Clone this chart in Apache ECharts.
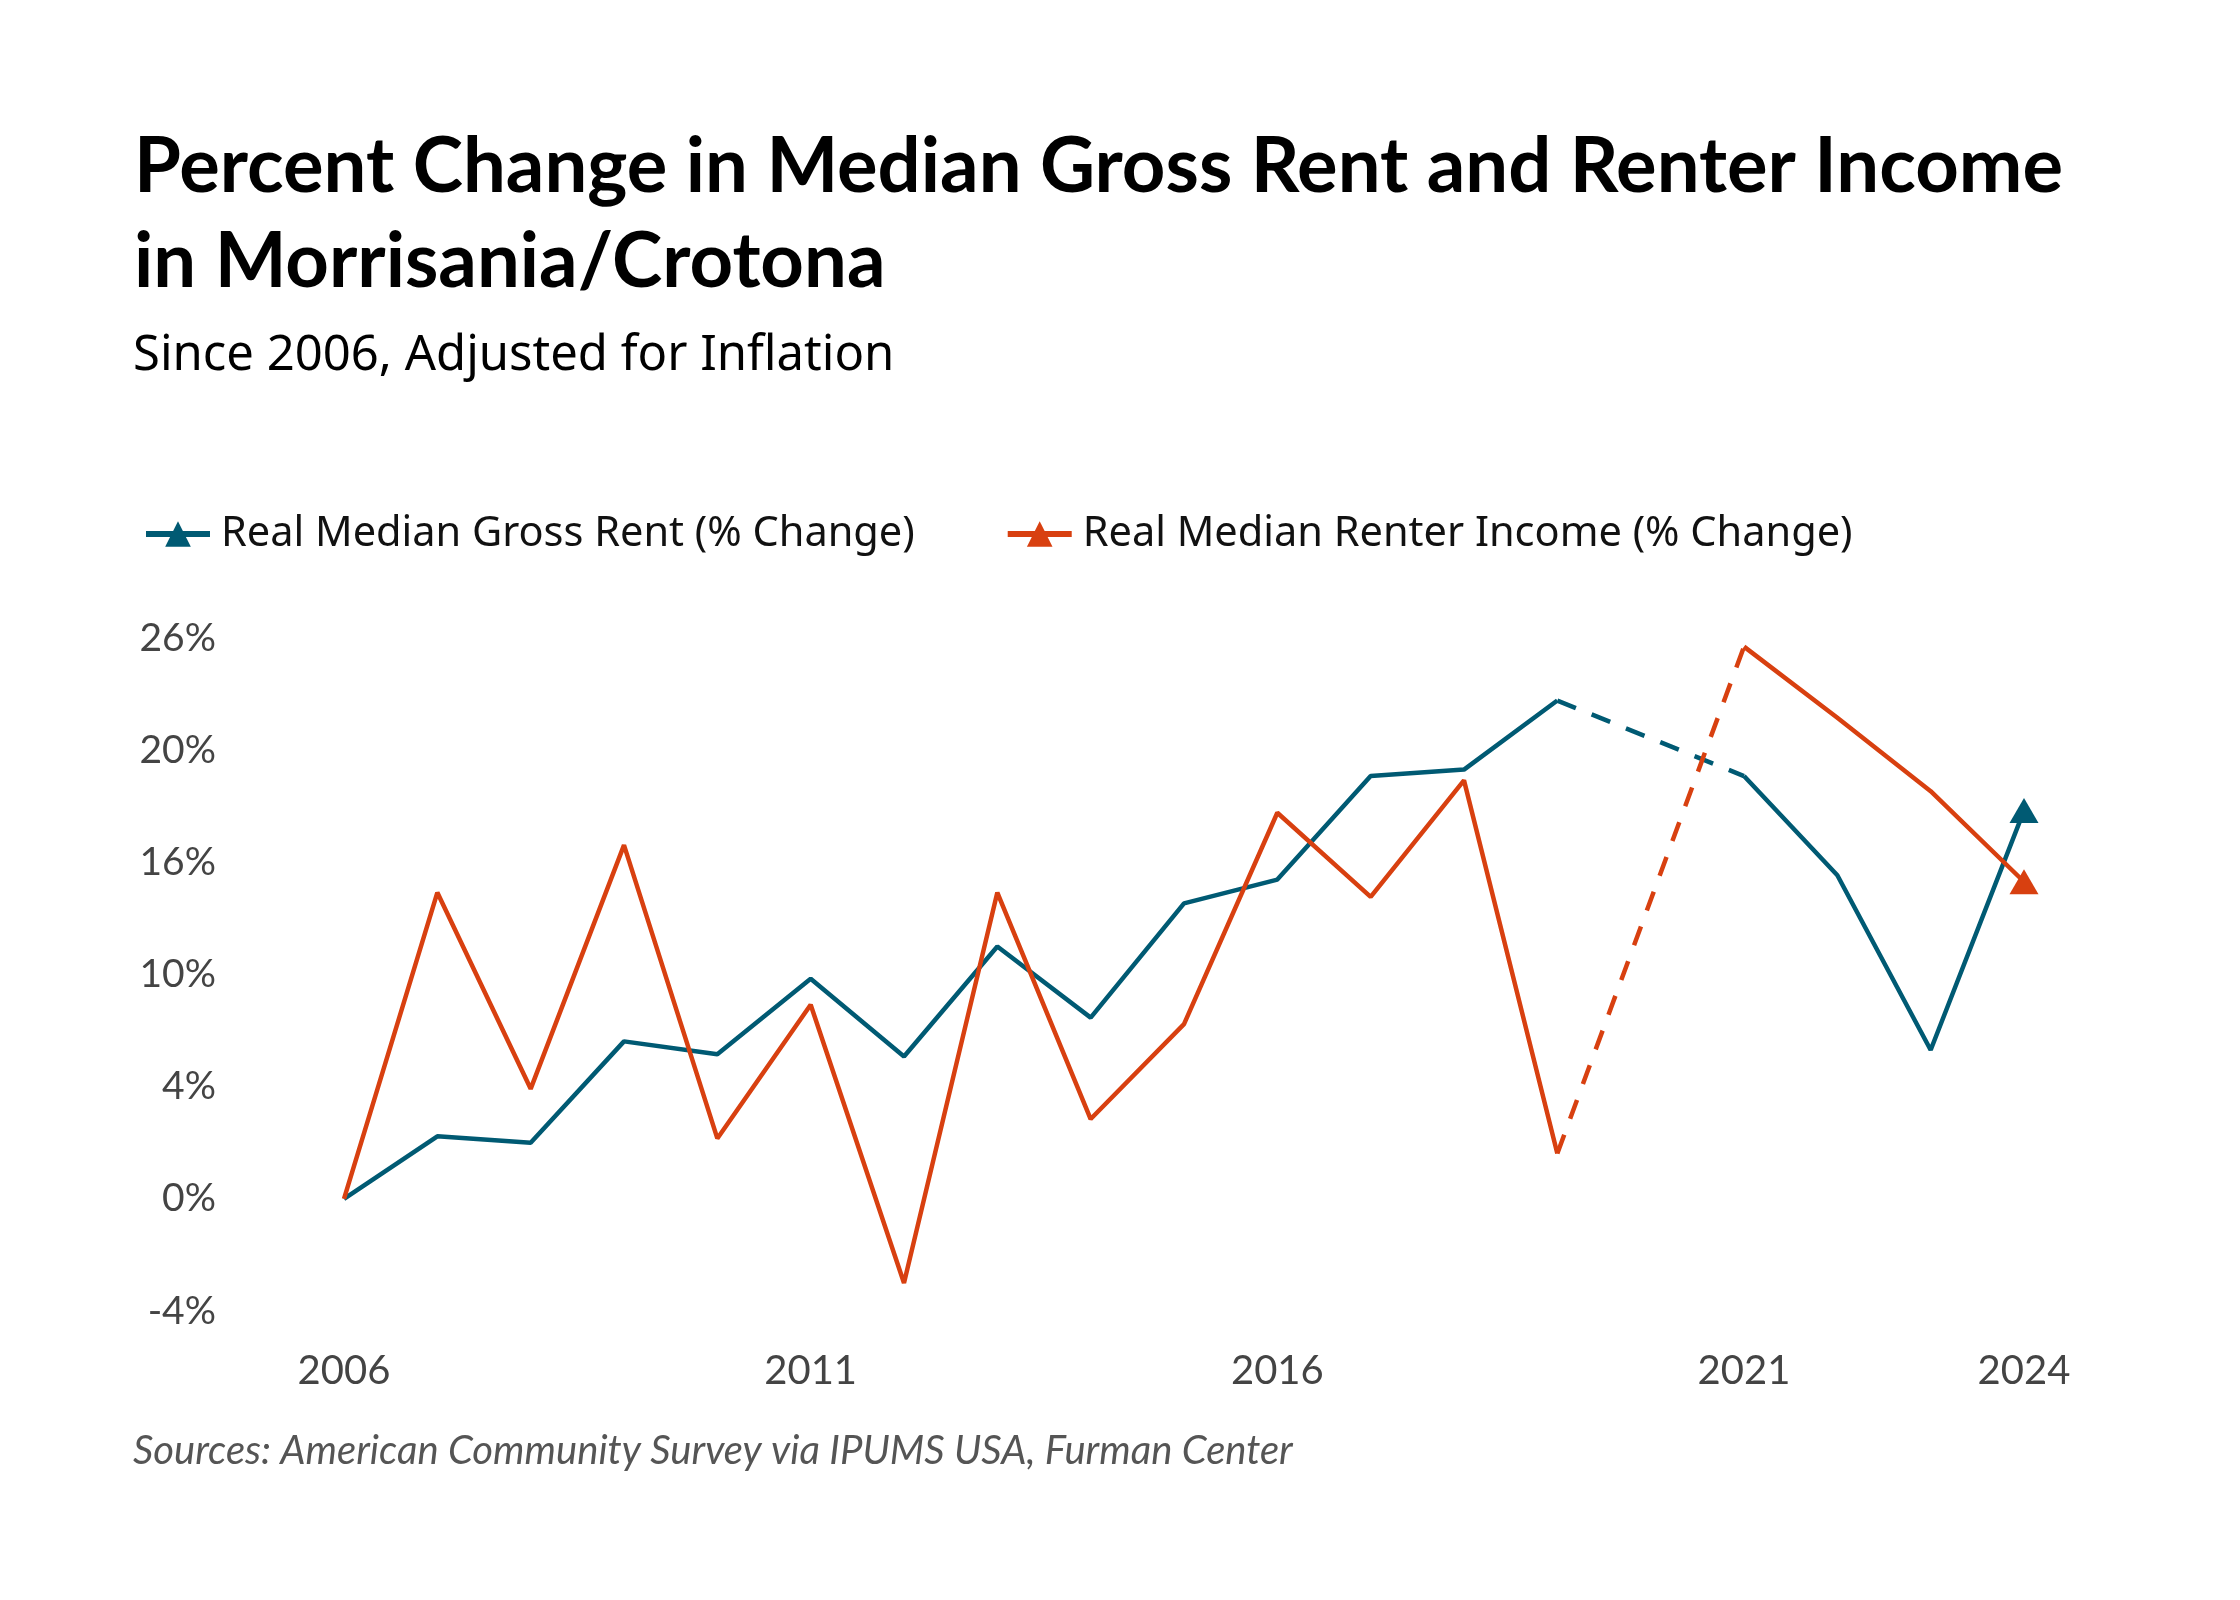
<!DOCTYPE html>
<html>
<head>
<meta charset="utf-8">
<script src="https://cdn.jsdelivr.net/npm/echarts@6/dist/echarts.min.js"></script>
<style>
  html, body { margin: 0; padding: 0; background: #fff; }
  #chart { width: 2240px; height: 1600px; }
</style>
</head>
<body>
<div id="chart"></div>
<script>
const years = ['2006', '2007', '2008', '2009', '2010', '2011', '2012', '2013', '2014', '2015',
    '2016', '2017', '2018', '2019', '2020', '2021', '2022', '2023', '2024'];
const labeledYears = ['2006', '2011', '2016', '2021', '2024'];

// 2020 has no estimate; the gap is bridged with a dashed segment
const rentValues = [0, 2.9, 2.6, 7.3, 6.7, 10.2, 6.6, 11.7, 8.4, 13.7,
    14.8, 19.6, 19.9, 23.1, null, 19.6, 15.0, 6.9, 18.0];
const incomeValues = [0, 14.2, 5.1, 16.4, 2.8, 9.0, -3.9, 14.2, 3.7, 8.1,
    17.9, 14.0, 19.4, 2.1, null, 25.6, 22.3, 18.9, 14.7];

const yTickLabels = ['-4%', '0%', '4%', '10%', '16%', '20%', '26%'];
const yMin = -5.2;
const yStep = 5.2;

const rentColor = '#005a73';
const incomeColor = '#d84010';

function bridge(values) {
    // keep only the points on either side of the missing year
    const gap = values.indexOf(null);
    return values.map((v, i) => (i === gap - 1 || i === gap + 1) ? v : null);
}

function lastTriangle(values) {
    return function (value, params) {
        return params.dataIndex === values.length - 1 ? [29, 25] : 0;
    };
}

const elem = document.getElementById('chart');
const myChart = echarts.init(elem, null, { renderer: 'canvas' });

myChart.setOption({
    backgroundColor: '#ffffff',
    animation: false,
    title: [
        {
            text: 'Percent Change in Median Gross Rent and Renter Income\nin Morrisania/Crotona',
            left: 129,
            top: 115,
            textStyle: {
                fontFamily: 'Lato',
                fontWeight: 'bold',
                fontSize: 76,
                lineHeight: 95,
                color: '#000'
            }
        },
        {
            text: 'Since 2006, Adjusted for Inflation',
            left: 128,
            top: 327,
            textStyle: {
                fontFamily: 'Noto Sans',
                fontWeight: 'normal',
                fontSize: 49,
                color: '#000'
            }
        },
        {
            text: 'Sources: American Community Survey via IPUMS USA, Furman Center',
            left: 128,
            top: 1426,
            textStyle: {
                fontFamily: 'Lato',
                fontStyle: 'italic',
                fontWeight: 'normal',
                fontSize: 40,
                color: '#555'
            }
        }
    ],
    legend: {
        data: ['Real Median Gross Rent (% Change)', 'Real Median Renter Income (% Change)'],
        left: 138,
        top: 508,
        itemWidth: 64,
        itemHeight: 32,
        itemGap: 90,
        lineStyle: { width: 6 },
        textStyle: {
            fontFamily: 'Noto Sans',
            fontSize: 41.5,
            color: '#111',
            padding: [0, 0, 0, 6]
        }
    },
    grid: {
        left: 344,
        right: 216,
        top: 638,
        bottom: 289
    },
    xAxis: {
        type: 'category',
        data: years,
        boundaryGap: false,
        axisLine: { show: false },
        axisTick: { show: false },
        splitLine: { show: false },
        axisLabel: {
            interval: function (index, value) {
                return labeledYears.indexOf(value) !== -1;
            },
            margin: 40,
            fontFamily: 'Lato',
            fontSize: 40,
            color: '#444'
        }
    },
    yAxis: {
        type: 'value',
        min: yMin,
        max: 26,
        interval: yStep,
        axisLine: { show: false },
        axisTick: { show: false },
        splitLine: { show: false },
        axisLabel: {
            margin: 128,
            fontFamily: 'Lato',
            fontSize: 39,
            color: '#444',
            formatter: function (v) {
                return yTickLabels[Math.round((v - yMin) / yStep)];
            }
        }
    },
    series: [
        {
            name: 'Real Median Gross Rent (% Change)',
            type: 'line',
            data: rentValues,
            connectNulls: false,
            symbol: 'triangle',
            symbolSize: lastTriangle(rentValues),
            showAllSymbol: true,
            color: rentColor,
            itemStyle: { color: rentColor },
            lineStyle: { color: rentColor, width: 4.5 },
            z: 3
        },
        {
            name: 'Real Median Renter Income (% Change)',
            type: 'line',
            data: incomeValues,
            connectNulls: false,
            symbol: 'triangle',
            symbolSize: lastTriangle(incomeValues),
            showAllSymbol: true,
            color: incomeColor,
            itemStyle: { color: incomeColor },
            lineStyle: { color: incomeColor, width: 4.5 },
            z: 3
        },
        {
            name: 'rent-bridge',
            type: 'line',
            data: bridge(rentValues),
            connectNulls: true,
            symbol: 'none',
            lineStyle: { color: rentColor, width: 4.5, type: [20, 17] },
            z: 2
        },
        {
            name: 'income-bridge',
            type: 'line',
            data: bridge(incomeValues),
            connectNulls: true,
            symbol: 'none',
            lineStyle: { color: incomeColor, width: 4.5, type: [20, 17] },
            z: 2
        }
    ]
});

window.addEventListener('resize', function () {
    myChart.resize();
});
</script>
</body>
</html>
